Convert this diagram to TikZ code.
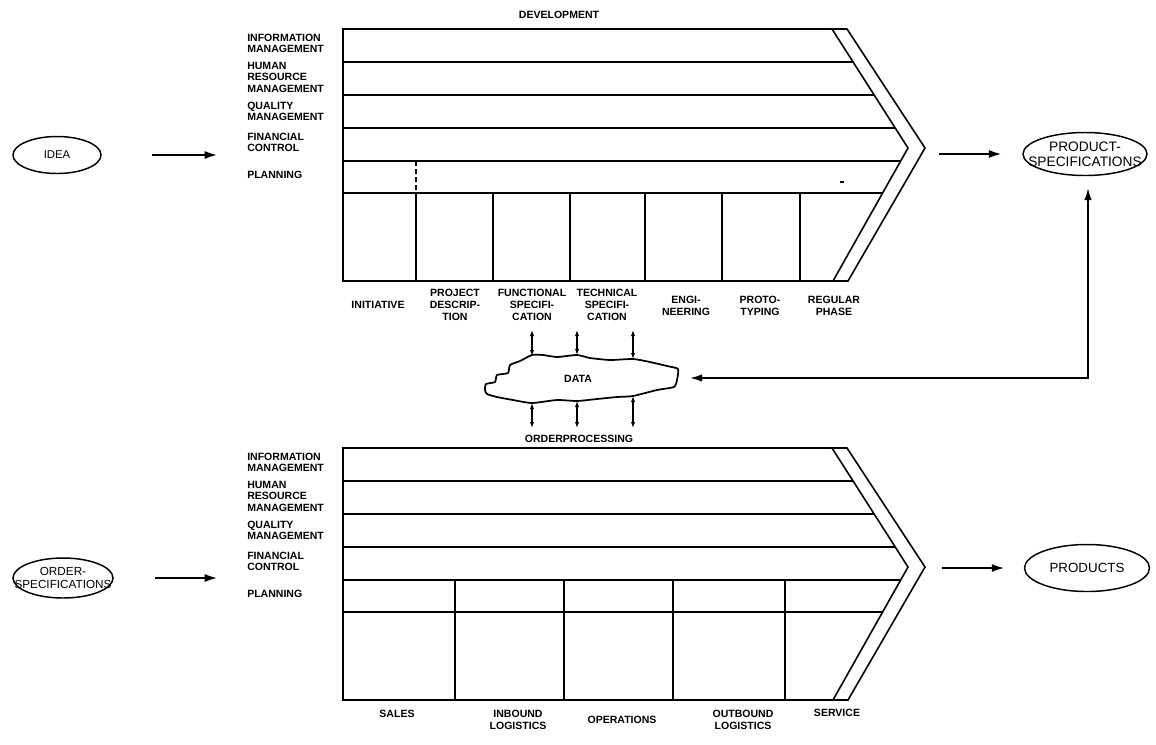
\documentclass[tikz,border=0pt]{standalone}
\usepackage{fontspec}
\setmainfont{Liberation Sans}
\usetikzlibrary{arrows.meta,shapes.geometric}
\begin{document}
\begin{tikzpicture}[x=0.75pt,y=-0.75pt,
  frame/.style={line width=1.2pt, line join=miter},
  thinline/.style={line width=0.95pt},
  lbl/.style={font=\bfseries\fontsize{7.9}{8.6}\selectfont, align=left, inner sep=0pt, anchor=west},
  col/.style={font=\bfseries\fontsize{7.9}{9}\selectfont, align=center, inner sep=0pt},
  oval/.style={draw, ellipse, line width=1.1pt, inner ysep=0pt, align=center},
  bigarrow/.style={line width=1.8pt, -{Latex[length=10pt,width=6pt]}},
  linkarrow/.style={line width=1.2pt, {Latex[length=9pt,width=5.5pt]}-{Latex[length=9pt,width=5.5pt]}},
  smallarrow/.style={line width=0.8pt, {Latex[length=4.5pt,width=3.2pt]}-{Latex[length=4.5pt,width=3.2pt]}}
]
\useasboundingbox (0,0) rectangle (1156,744);

% ---------- two value chain blocks (shared parts) ----------
\foreach \dy/\nm in {0/top,419/bot}{
\begin{scope}[shift={(0,\dy)}]
  \draw[frame] (343,29) -- (847,29) -- (925,148) -- (848,281) -- (343,281) -- cycle;
  \draw[frame] (832,29) -- (908,148) -- (833,281);
  \draw[frame] (343,62) -- (853.1,62);
  \draw[frame] (343,95) -- (874.2,95);
  \draw[frame] (343,128) -- (895.2,128);
  \draw[frame] (343,161) -- (900.7,161);
  \draw[frame] (343,193) -- (882.6,193);
  \node[lbl] (info\nm) at (247,43.5) {INFORMATION\\MANAGEMENT};
  \node[lbl] (hrm\nm) at (247,77) {HUMAN\\RESOURCE\\MANAGEMENT};
  \node[lbl] (qual\nm) at (247,111.5) {QUALITY\\MANAGEMENT};
  \node[lbl] (fin\nm) at (247,142.5) {FINANCIAL\\CONTROL};
  \node[lbl] (plan\nm) at (247,175) {PLANNING};
\end{scope}
}

% ---------- development block specifics ----------
\draw[thinline, dashed, dash pattern=on 4pt off 2pt] (416,161) -- (416,193);
\foreach \x in {416,493,570,645,722,800} \draw[thinline] (\x,193) -- (\x,281);
\draw[thinline] (840,182) -- (844,182);
\node[col] (devel) at (559,15) {DEVELOPMENT};
\node[col] (initiative) at (378,305) {INITIATIVE};
\node[col] (project) at (455,305) {PROJECT\\DESCRIP-\\TION};
\node[col] (functional) at (532,305) {FUNCTIONAL\\SPECIFI-\\CATION};
\node[col] (technical) at (607,305) {TECHNICAL\\SPECIFI-\\CATION};
\node[col] (engineering) at (686,305.5) {ENGI-\\NEERING};
\node[col] (prototyping) at (760,305.5) {PROTO-\\TYPING};
\node[col] (regular) at (834,305.5) {REGULAR\\PHASE};

% ---------- order processing block specifics ----------
\foreach \x in {455,564,673,785} \draw[thinline] (\x,580) -- (\x,700);
\node[col] (orderproc) at (579,439) {ORDERPROCESSING};
\node[col] (sales) at (397,714) {SALES};
\node[col] (inbound) at (518,720) {INBOUND\\LOGISTICS};
\node[col] (operations) at (622,720) {OPERATIONS};
\node[col] (outbound) at (743,720) {OUTBOUND\\LOGISTICS};
\node[col] (service) at (837,713) {SERVICE};

% ---------- ellipses ----------
\node[oval, inner xsep=0pt, minimum width=66pt, minimum height=27.75pt, font=\fontsize{8.5}{9}\selectfont] (idea) at (57,155) {IDEA};
\node[oval, inner xsep=-9.9pt, minimum width=93pt, minimum height=32.25pt, font=\fontsize{10.3}{11.25}\selectfont] (pspec) at (1085,154) {PRODUCT-\\SPECIFICATIONS};
\node[oval, inner xsep=-10.1pt, minimum width=75pt, minimum height=30pt, font=\fontsize{8.8}{9.75}\selectfont] (ospec) at (63,578) {ORDER-\\SPECIFICATIONS};
\node[oval, inner xsep=0pt, minimum width=93.75pt, minimum height=35.25pt, font=\fontsize{10}{11}\selectfont] (products) at (1087,568) {PRODUCTS};

% ---------- main arrows ----------
\coordinate (ideaend) at (218,155);
\coordinate (devout) at (939,154);
\coordinate (ospecend) at (218,578);
\coordinate (orderout) at (942,568);
\draw[bigarrow, shorten <=38pt] (idea.east) -- (ideaend);
\draw[bigarrow, shorten >=15pt] (devout) -- (pspec.west);
\draw[bigarrow, shorten <=31pt] (ospec.east) -- (ospecend);
\draw[bigarrow, shorten >=14pt] (orderout) -- (products.west);

% ---------- data cloud ----------
\draw[line width=1.3pt, line join=round] plot[smooth cycle, tension=0.35] coordinates {
 (485,390) (486,384) (495,382) (497,375) (508,373) (510,365) (520,361) (532,355)
 (543,355) (557,357) (577,355) (590,358) (610,360) (633,359) (650,362) (667,366)
 (678,369) (677,380) (674,387) (657,390) (633,396) (617,397) (597,399) (577,401)
 (557,400) (532,403) (513,400) (497,397) (487,394)};
\node[col] (data) at (578,379) {DATA};

\coordinate (ct1) at (532,356);
\coordinate (ct2) at (577,355);
\coordinate (ct3) at (633,359);
\coordinate (cb1) at (532,403);
\coordinate (cb2) at (577,401);
\coordinate (cb3) at (633,396);
\coordinate (at1) at (532,330);
\coordinate (at2) at (577,330);
\coordinate (at3) at (633,330);
\coordinate (ab1) at (532,428);
\coordinate (ab2) at (577,428);
\coordinate (ab3) at (633,428);
\draw[smallarrow] (at1) -- (ct1);
\draw[smallarrow] (at2) -- (ct2);
\draw[smallarrow] (at3) -- (ct3);
\draw[smallarrow] (cb1) -- (ab1);
\draw[smallarrow] (cb2) -- (ab2);
\draw[smallarrow] (cb3) -- (ab3);

% ---------- link between data and product specifications ----------
\coordinate (cloudright) at (690,378);
\coordinate (corner) at (1088,378);
\coordinate (pspectip) at (1088,188);
\draw[linkarrow] (cloudright) -- (corner) -- (pspectip);
\end{tikzpicture}
\end{document}
